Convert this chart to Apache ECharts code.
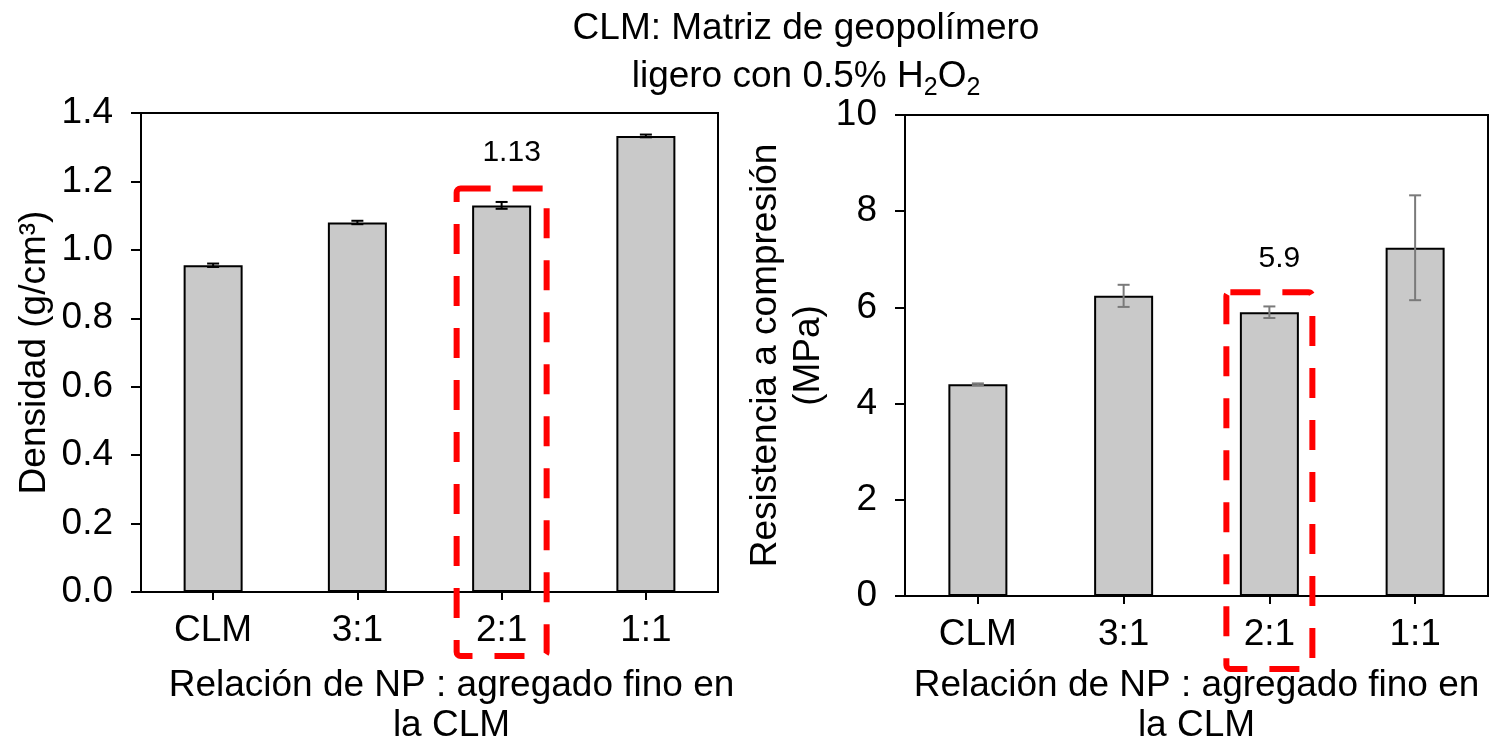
<!DOCTYPE html>
<html>
<head>
<meta charset="utf-8">
<script src="https://cdn.jsdelivr.net/npm/echarts@6/dist/echarts.min.js"></script>
<style>
html,body{margin:0;padding:0;background:#fff;}
#c{width:1489px;height:751px;}
</style>
</head>
<body>
<div id="c"></div>
<script>
const categories = ['CLM', '3:1', '2:1', '1:1'];
const densidad = [0.955, 1.08, 1.13, 1.333];
const densidadErr = [0.005, 0.005, 0.01, 0.004];
const resistencia = [4.4, 6.24, 5.9, 7.24];
const resistenciaErr = [0.02, 0.23, 0.12, 1.09];
const densidadTicks = [0, 0.2, 0.4, 0.6, 0.8, 1.0, 1.2, 1.4];
const resistenciaTicks = [0, 2, 4, 6, 8, 10];
const highlightIndex = 2;

const FONT = '"Liberation Sans", Arial, sans-serif';
const FS = 37;
const chart = echarts.init(document.getElementById('c'), null, {renderer: 'canvas'});

function errData(vals, errs) {
  return vals.map((v, i) => [i, v - errs[i], v + errs[i]]);
}
function errRender(color) {
  return function (params, api) {
    const lo = api.coord([api.value(0), api.value(1)]);
    const hi = api.coord([api.value(0), api.value(2)]);
    const h = 6;
    const st = {stroke: color, lineWidth: 2};
    return {
      type: 'group',
      children: [
        {type: 'line', shape: {x1: lo[0], y1: lo[1], x2: hi[0], y2: hi[1]}, style: st},
        {type: 'line', shape: {x1: lo[0] - h, y1: lo[1], x2: lo[0] + h, y2: lo[1]}, style: st},
        {type: 'line', shape: {x1: hi[0] - h, y1: hi[1], x2: hi[0] + h, y2: hi[1]}, style: st}
      ]
    };
  };
}
function barData(vals) {
  return vals.map((v, i) => i === highlightIndex ? {
    value: v,
    label: {show: true, position: 'top', distance: 38, offset: [10, 0], formatter: '{c}',
      fontSize: 30, fontFamily: FONT, color: '#000'}
  } : v);
}

const axisLineStyle = {color: '#000', width: 2};
function xAxisDef(gridIndex, nameGap, namePad) {
  return {
    type: 'category', gridIndex, data: categories,
    axisLine: {show: true, lineStyle: axisLineStyle},
    axisTick: {show: true, alignWithLabel: true, length: 8, lineStyle: axisLineStyle},
    axisLabel: {fontSize: FS, fontFamily: FONT, color: '#000', margin: 20},
    splitLine: {show: false},
    name: 'Relación de NP : agregado fino en\nla CLM',
    nameLocation: 'middle', nameGap,
    nameTextStyle: {fontSize: FS, fontFamily: FONT, color: '#000', lineHeight: 40, padding: namePad}
  };
}

const option = {
  backgroundColor: '#fff',
  animation: false,
  title: {
    text: 'CLM: Matriz de geopolímero\nligero con 0.5% H{sub|2}O{sub|2}',
    left: 801, top: 0, textAlign: 'center',
    textStyle: {
      fontSize: FS, fontWeight: 'normal', fontFamily: FONT, color: '#000', lineHeight: 48,
      rich: {
        sub: {fontSize: 25, fontFamily: FONT, color: '#000', verticalAlign: 'bottom', lineHeight: 30}
      }
    }
  },
  grid: [
    {left: 141, top: 113, width: 577, height: 480, show: true, borderColor: '#000', borderWidth: 2, containLabel: false},
    {left: 905, top: 115, width: 583, height: 482, show: true, borderColor: '#000', borderWidth: 2, containLabel: false}
  ],
  xAxis: [xAxisDef(0, 74, [0, 0, 0, 44]), xAxisDef(1, 70, 0)],
  yAxis: [
    {
      type: 'value', gridIndex: 0, min: densidadTicks[0], max: densidadTicks[densidadTicks.length - 1], interval: 0.2,
      axisLine: {show: true, lineStyle: axisLineStyle},
      axisTick: {show: true, length: 10, lineStyle: axisLineStyle},
      axisLabel: {fontSize: FS, fontFamily: FONT, color: '#000', margin: 28, formatter: v => v.toFixed(1)},
      splitLine: {show: false},
      name: 'Densidad (g/cm³)', nameLocation: 'middle', nameGap: 88,
      nameTextStyle: {fontSize: FS, fontFamily: FONT, color: '#000'}
    },
    {
      type: 'value', gridIndex: 1, min: resistenciaTicks[0], max: resistenciaTicks[resistenciaTicks.length - 1], interval: 2,
      axisLine: {show: true, lineStyle: axisLineStyle},
      axisTick: {show: true, length: 10, lineStyle: axisLineStyle},
      axisLabel: {fontSize: FS, fontFamily: FONT, color: '#000', margin: 28},
      splitLine: {show: false},
      name: 'Resistencia a compresión\n(MPa)', nameLocation: 'middle', nameGap: 75,
      nameTextStyle: {fontSize: FS, fontFamily: FONT, color: '#000', lineHeight: 43}
    }
  ],
  series: [
    {
      type: 'bar', xAxisIndex: 0, yAxisIndex: 0, data: barData(densidad), barWidth: 59,
      itemStyle: {color: '#c9c9c9', borderColor: '#000', borderWidth: 2}, z: 2
    },
    {
      type: 'custom', xAxisIndex: 0, yAxisIndex: 0, data: errData(densidad, densidadErr),
      renderItem: errRender('#000'), encode: {x: 0, y: [1, 2]}, z: 5
    },
    {
      type: 'bar', xAxisIndex: 1, yAxisIndex: 1, data: barData(resistencia), barWidth: 59,
      itemStyle: {color: '#c9c9c9', borderColor: '#000', borderWidth: 2}, z: 2
    },
    {
      type: 'custom', xAxisIndex: 1, yAxisIndex: 1, data: errData(resistencia, resistenciaErr),
      renderItem: errRender('#7a7a7a'), encode: {x: 0, y: [1, 2]}, z: 5
    }
  ]
};
chart.setOption(option);

// Red dashed highlight boxes around the highlighted category, positioned from the axes
function boxFor(gridIdx, vals, width, topPad, bottomExtra) {
  const c = chart.convertToPixel({gridIndex: gridIdx}, [highlightIndex, vals[highlightIndex]]);
  const base = chart.convertToPixel({gridIndex: gridIdx}, [highlightIndex, 0]);
  const top = c[1] - topPad;
  const bottom = base[1] + bottomExtra;
  return {
    type: 'rect', z: 100,
    shape: {x: c[0] - width / 2, y: top, width: width, height: bottom - top, r: 4},
    style: {fill: 'none', stroke: '#ff0000', lineWidth: 6, lineDash: [30, 22], lineJoin: 'round'}
  };
}
chart.setOption({
  graphic: [
    boxFor(0, densidad, 90, 17, 64),
    boxFor(1, resistencia, 86, 20, 73)
  ]
});
</script>
</body>
</html>
